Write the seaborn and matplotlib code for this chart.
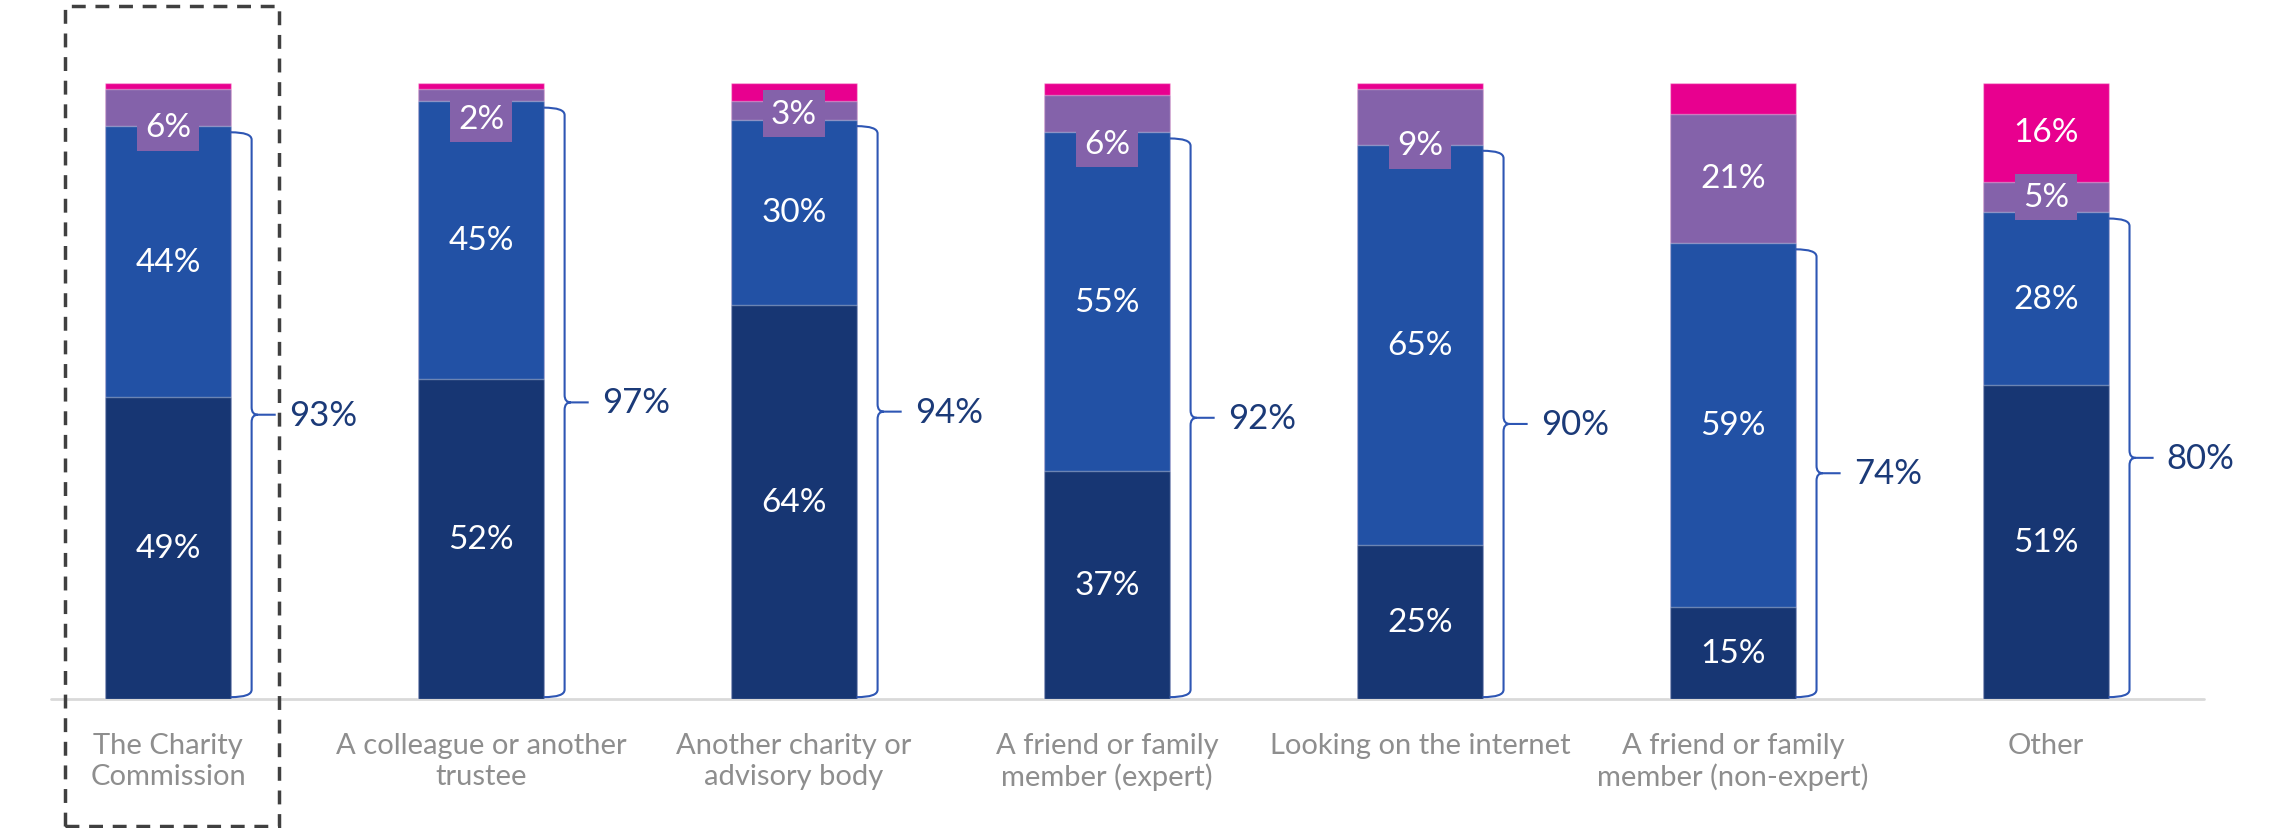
import matplotlib
matplotlib.use("Agg")
import matplotlib.pyplot as plt
from matplotlib.path import Path
from matplotlib.patches import PathPatch, Rectangle
import matplotlib.transforms as mtransforms
import numpy as np
import pandas as pd
import seaborn as sns

# Where trustees go for advice, share of respondents (%)
categories = [
    "The Charity\nCommission",
    "A colleague or another\ntrustee",
    "Another charity or\nadvisory body",
    "A friend or family\nmember (expert)",
    "Looking on the internet",
    "A friend or family\nmember (non-expert)",
    "Other",
]
very_useful = [49, 52, 64, 37, 25, 15, 51]
fairly_useful = [44, 45, 30, 55, 65, 59, 28]
not_very_useful = [6, 2, 3, 6, 9, 21, 5]
not_at_all_useful = [1, 1, 3, 2, 1, 5, 16]
useful_total = [93, 97, 94, 92, 90, 74, 80]

# Stack order bottom -> top
layers = [very_useful, fairly_useful, not_very_useful, not_at_all_useful]
colors = ["#173673", "#2251A5", "#8462AA", "#E8008F"]

# Vertical nudges (in % units) for labels of thin segments
label_nudge = {(0, 2): -3.2, (1, 2): -3.8, (2, 2): -0.5, (3, 2): -4.9, (4, 2): -4.6}

sns.set_theme(style="white")
plt.rcParams["font.family"] = ["Lato", "DejaVu Sans"]

W, H = 2277, 829
fig = plt.figure(figsize=(W / 100, H / 100), dpi=100)
ax = fig.add_axes([51 / W, 129 / H, (2204 - 51) / W, (700 - 84) / H])

cum = np.cumsum(np.array(layers, dtype=float), axis=0)

# Draw cumulative bars from the top layer down so each overlays the one above
for k in range(len(layers) - 1, -1, -1):
    df = pd.DataFrame({"category": categories, "value": cum[k]})
    sns.barplot(data=df, x="category", y="value", order=categories,
                color=colors[k], saturation=1, width=0.4, errorbar=None,
                edgecolor=(1, 1, 1, 0.35), linewidth=1.0, ax=ax, zorder=2)

# Segment value labels
for i in range(len(categories)):
    bottom = 0.0
    for k, vals in enumerate(layers):
        v = vals[i]
        show = (k < 3) or v >= 10
        if show:
            y = bottom + v / 2 + label_nudge.get((i, k), 0.0)
            ax.text(i, y, f"{v}%", ha="center", va="center", color="white",
                    fontsize=24, zorder=5,
                    bbox=dict(boxstyle="square,pad=0.25", fc=colors[k], ec="none"))
        bottom += v

# Curly brackets with the combined "useful" share
brace_col = "#2E56B4"
for i in range(len(categories)):
    top = very_useful[i] + fairly_useful[i]
    x0 = i + 0.2
    xv = x0 + 0.067
    xt = xv + 0.077
    yt = top - 1.0
    yb = 0.3
    ym = (yt + yb) / 2
    r = 1.2
    s = 0.02
    verts = [
        (x0, yt), (xv, yt), (xv, yt - r),
        (xv, ym + r),
        (xv, ym), (xv + s, ym),
        (xt, ym),
        (xv + s, ym),
        (xv, ym), (xv, ym - r),
        (xv, yb + r),
        (xv, yb), (x0, yb),
    ]
    codes = [
        Path.MOVETO, Path.CURVE3, Path.CURVE3,
        Path.LINETO,
        Path.CURVE3, Path.CURVE3,
        Path.LINETO,
        Path.MOVETO,
        Path.CURVE3, Path.CURVE3,
        Path.LINETO,
        Path.CURVE3, Path.CURVE3,
    ]
    ax.add_patch(PathPatch(Path(verts, codes), fill=False, ec=brace_col,
                           lw=1.5, clip_on=False, zorder=3))
    ax.text(xt + 0.042, ym, f"{useful_total[i]}%", ha="left", va="center",
            color="#1B3A78", fontsize=25, clip_on=False)

ax.set_xlim(-0.374, 6.505)
ax.set_ylim(0, 100)
ax.axhline(0, color="#D9D9D9", lw=2, zorder=1, clip_on=False)
for sp in ax.spines.values():
    sp.set_visible(False)
ax.set_yticks([])
ax.set_xlabel("")
ax.set_ylabel("")
ax.set_xticks(range(len(categories)))
ax.set_xticklabels(categories, fontsize=21, color="#8E8E8E", linespacing=1.2,
                   va="top")
ax.tick_params(axis="x", length=0, pad=24)

# Dashed highlight around the first category
trans = mtransforms.blended_transform_factory(ax.transData, fig.transFigure)
ax.add_patch(Rectangle((-0.329, 2 / H), 0.684, (820) / H, transform=trans,
                       fill=False, ec="#404040", lw=2.5, ls=(0, (4, 2.8)),
                       clip_on=False, zorder=6))

fig.savefig("out.png", dpi=100)
